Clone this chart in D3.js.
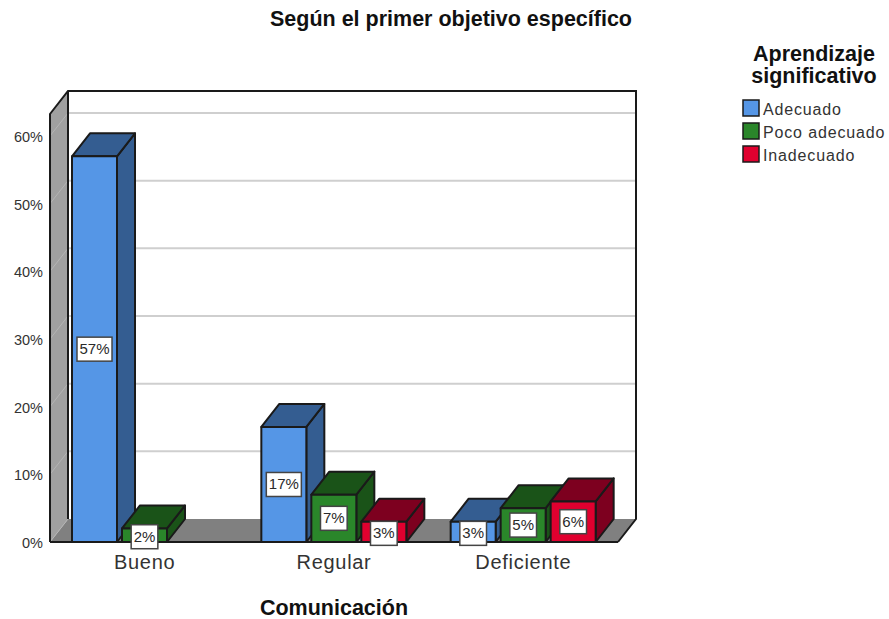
<!DOCTYPE html>
<html><head><meta charset="utf-8">
<script src="https://cdn.jsdelivr.net/npm/d3@7/dist/d3.min.js"></script>
<style>html,body{margin:0;padding:0;background:#fff}svg{display:block}text{font-family:"Liberation Sans",Arial,sans-serif}</style>
</head><body><svg id="c" width="889" height="619"></svg>
<script>
const categories = ["Bueno","Regular","Deficiente"];
const seriesNames = ["Adecuado","Poco adecuado","Inadecuado"];
const adecuado = [57,17,3];
const pocoAdecuado = [2,7,5];
const inadecuado = [null,3,6];
const yTicks = [0,10,20,30,40,50,60];
const seriesValues = [adecuado,pocoAdecuado,inadecuado];
const frontColors = ["#5596e6","#2a862a","#e0002f"];
const darkColors = ["#345d91","#1a5318","#7d001f"];

const svg = d3.select("#c");
const dx = 18, dy = -23;
const plotLeft = 50, plotRight = 618, base = 542, plotTop = 114;
const y = d3.scaleLinear().domain([0,60]).range([base,136]);
const x0 = d3.scaleBand().domain(categories).range([plotLeft,plotRight]);
const x1 = d3.scaleBand().domain(seriesNames).range([22,167]).paddingInner(0.1);
const poly = pts => pts.map(p=>p.join(",")).join(" ");
const ink = "#1a1a1a";

// walls
svg.append("polygon").attr("points",poly([[plotLeft+dx,plotTop+dy],[plotRight+dx,plotTop+dy],[plotRight+dx,base+dy],[plotLeft+dx,base+dy]])).attr("fill","#fff");
svg.append("polygon").attr("points",poly([[plotLeft,plotTop],[plotLeft+dx,plotTop+dy],[plotLeft+dx,base+dy],[plotLeft,base]])).attr("fill","#a0a0a0");
svg.append("polygon").attr("points",poly([[plotLeft,base],[plotLeft+dx,base+dy],[plotRight+dx,base+dy],[plotRight,base]])).attr("fill","#808080");

// gridlines
yTicks.filter(t=>t>0).forEach(t=>{
  const yy = y(t);
  svg.append("line").attr("x1",plotLeft).attr("y1",yy).attr("x2",plotLeft+dx).attr("y2",yy+dy)
    .attr("stroke","#b4b4b4").attr("stroke-width",1);
  svg.append("line").attr("x1",plotLeft+dx).attr("y1",yy+dy).attr("x2",plotRight+dx).attr("y2",yy+dy)
    .attr("stroke","#cfcfcf").attr("stroke-width",2);
});
svg.append("line").attr("x1",plotLeft).attr("x2",plotLeft+dx).attr("y1",base).attr("y2",base+dy).attr("stroke","#b5b5b5").attr("stroke-width",1);

// wall outline
svg.append("polyline").attr("points",poly([[plotLeft,base],[plotLeft,plotTop],[plotLeft+dx,plotTop+dy],[plotRight+dx,plotTop+dy],[plotRight+dx,base+dy],[plotRight,base]]))
  .attr("fill","none").attr("stroke",ink).attr("stroke-width",2);
svg.append("line").attr("x1",plotLeft+dx).attr("x2",plotLeft+dx).attr("y1",plotTop+dy).attr("y2",base+dy).attr("stroke",ink).attr("stroke-width",2);
svg.append("line").attr("x1",plotLeft).attr("x2",plotRight).attr("y1",base).attr("y2",base).attr("stroke",ink).attr("stroke-width",2);

// bars
const labels = [];
categories.forEach((c,ci)=>{
  seriesNames.forEach((s,si)=>{
    const v = seriesValues[si][ci];
    if(v===null) return;
    const xs = x0(c)+x1(s), xe = xs+x1.bandwidth(), yt = y(v);
    const g = svg.append("g").attr("stroke",ink).attr("stroke-width",2).attr("stroke-linejoin","round");
    g.append("polygon").attr("points",poly([[xe,yt],[xe+dx,yt+dy],[xe+dx,base+dy],[xe,base]])).attr("fill",darkColors[si]);
    g.append("polygon").attr("points",poly([[xs,yt],[xs+dx,yt+dy],[xe+dx,yt+dy],[xe,yt]])).attr("fill",darkColors[si]);
    g.append("rect").attr("x",xs).attr("y",yt).attr("width",xe-xs).attr("height",base-yt).attr("fill",frontColors[si]);
    labels.push({v,cx:(xs+xe)/2,cy:(yt+base)/2+(v<=3?1.5:0)});
  });
});

// value labels
labels.forEach(l=>{
  const g = svg.append("g");
  const r = g.append("rect");
  const t = g.append("text").attr("x",l.cx).attr("y",l.cy+5).attr("text-anchor","middle").attr("font-size",15).attr("fill","#2a2a2a").text(l.v+"%");
  const w = t.node().getComputedTextLength()+5;
  r.attr("x",l.cx-w/2).attr("y",l.cy-12).attr("width",w).attr("height",24).attr("fill","#fff").attr("stroke","#444").attr("stroke-width",1.5);
});

// y axis labels
const yAxis = d3.axisLeft(y).tickValues(yTicks).tickSize(0).tickPadding(7).tickFormat(d=>d+"%");
const yAxisG = svg.append("g").attr("transform",`translate(${plotLeft},1)`).call(yAxis);
yAxisG.select(".domain").remove();
yAxisG.selectAll("text").attr("font-size",14.5).attr("fill","#333").style("font-family",'"Liberation Sans",Arial,sans-serif');

// x axis labels
const xAxis = d3.axisBottom(x0).tickSize(0).tickPadding(13);
const xAxisG = svg.append("g").attr("transform",`translate(0,${base})`).call(xAxis);
xAxisG.select(".domain").remove();
xAxisG.selectAll("text").attr("font-size",20).attr("letter-spacing",0.7).attr("fill","#333").style("font-family",'"Liberation Sans",Arial,sans-serif');

// titles
const boldText = (tx,ty,str) => svg.append("text").attr("x",tx).attr("y",ty).attr("text-anchor","middle").attr("font-size",21.5).attr("font-weight","bold").attr("fill","#111").text(str);
boldText(451,26,"Según el primer objetivo específico");
boldText(334,615,"Comunicación");

// legend
boldText(814,61,"Aprendizaje");
boldText(814,83,"significativo");
const ly = d3.scalePoint().domain(seriesNames).range([108,154]);
seriesNames.forEach((s,i)=>{
  svg.append("rect").attr("x",743).attr("y",ly(s)-8).attr("width",16).attr("height",16).attr("fill",frontColors[i]).attr("stroke",ink).attr("stroke-width",1.5);
  svg.append("text").attr("x",763).attr("y",ly(s)+7).attr("font-size",16).attr("letter-spacing",0.85).attr("fill","#333").text(s);
});
</script></body></html>
